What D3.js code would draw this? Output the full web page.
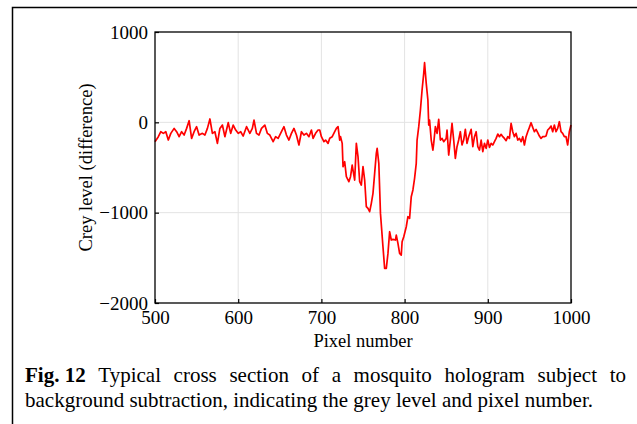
<!DOCTYPE html>
<html>
<head>
<meta charset="utf-8">
<script src="https://cdn.jsdelivr.net/npm/d3@7"></script>
<style>
  body { margin: 0; background: #fff; }
  svg { display: block; }
  svg text { font-family: "Liberation Serif", "Times New Roman", serif; fill: #000; }
</style>
</head>
<body>
<svg width="637" height="424"></svg>
<script>
// cross section values
var pixelNumber = [500, 504, 507, 510, 513, 516, 519, 523, 526, 529, 532, 535, 538, 541, 544, 547, 550, 553, 557, 560,
  563, 566, 569, 572, 575, 578, 581, 584, 588, 591, 594, 597, 600, 603, 606, 610, 614, 617, 619, 622,
  625, 628, 632, 635, 638, 642, 645, 648, 652, 655, 658, 661, 664, 667, 670, 673, 676, 679, 682, 685,
  688, 690, 693, 696, 698, 700, 703, 705, 708, 710, 713, 716, 718, 720, 722, 723, 725, 726, 728, 730,
  733, 735, 737, 738, 740, 742, 744, 746, 748, 750, 752, 754, 756, 758, 760, 762, 764, 766, 767, 769,
  771, 774, 776, 778, 780, 782, 784, 786, 789, 790, 792, 794, 796, 797, 799, 802, 804, 806, 808, 810,
  812, 814, 815, 817, 819, 821, 823, 824, 826, 828, 829, 830, 832, 834, 835, 837, 839, 841, 843, 845,
  847, 850, 851, 853, 855, 857, 859, 861, 863, 865, 867, 869, 871, 873, 875, 877, 880, 882, 884, 886,
  888, 890, 892, 894, 896, 898, 900, 902, 904, 906, 908, 910, 912, 914, 916, 918, 920, 922, 924, 926,
  928, 930, 932, 934, 936, 938, 940, 942, 944, 946, 948, 950, 952, 954, 956, 958, 960, 962, 964, 966,
  968, 970, 972, 974, 976, 978, 980, 982, 984, 986, 988, 990, 992, 994, 996, 998, 1000];
var greyLevel = [-214, -159, -104, -122, -104, -196, -122, -67, -104, -159, -104, -141, -67, 18, -178, -104, -48, -141, -122, -141,
  -67, 37, -122, -104, -233, -67, -30, -159, -4, -122, -30, -85, -122, -104, -152, -48, -122, -67, 25, -122,
  -141, -67, -30, -122, -141, -214, -159, -178, -104, -48, -141, -196, -122, -67, -141, -251, -104, -141, -122, -159,
  -85, -178, -122, -85, -85, -159, -214, -196, -233, -177, -159, -104, -67, -48, -196, -159, -233, -491, -436, -602,
  -657, -602, -473, -528, -639, -233, -380, -657, -694, -491, -639, -934, -953, -989, -897, -786, -565, -344, -288, -454,
  -1008, -1377, -1617, -1617, -1451, -1211, -1303, -1296, -1303, -1248, -1340, -1451, -1469, -1322, -1266, -1156, -1045, -1063, -823, -749,
  -620, -454, -196, -48, 136, 358, 542, 660, 432, 247, -30, 26, -196, -307, -233, -48, -122, 33, -196, -177,
  -214, -178, -85, -362, -196, -11, -196, -399, -270, -196, -104, -251, -196, -78, -233, -159, -78, -270, -159, -104,
  -270, -307, -196, -325, -233, -288, -196, -277, -233, -251, -214, -178, -130, -159, -133, -159, -178, -203, -159, -178,
  -11, -104, -159, -122, -196, -178, -214, -159, -251, -159, -104, -56, -4, -56, -104, -78, -115, -152, -178, -159,
  -159, -152, -85, -67, -41, -104, -30, -104, -67, 7, -104, -122, -159, -159, -251, -104, -30];
var xTicks = [500, 600, 700, 800, 900, 1000];
var yTicks = [-2000, -1000, 0, 1000];
var xTitle = "Pixel number";
var yTitle = "Crey level (difference)";
var captionBold = "Fig. 12";
var captionLine1 = "Typical cross section of a mosquito hologram subject to";
var captionLine2 = "background subtraction, indicating the grey level and pixel number.";

var svg = d3.select("svg");
var plotLeft = 155, plotRight = 571, plotTop = 32, plotBottom = 303;

// outer frame (runs off the right and bottom edges)
svg.append("rect").attr("x", 12.5).attr("y", 7.5).attr("width", 700).attr("height", 500)
  .attr("fill", "none").attr("stroke", "#000").attr("stroke-width", 1.5);

var x = d3.scaleLinear().domain([500, 1000]).range([plotLeft, plotRight]);
var y = d3.scaleLinear().domain([-2000, 1000]).range([plotBottom, plotTop]);

// grid
svg.append("g").selectAll("line").data(xTicks.slice(1, -1)).enter().append("line")
  .attr("x1", d => x(d)).attr("x2", d => x(d)).attr("y1", plotTop).attr("y2", plotBottom)
  .attr("stroke", "#e3e3e3").attr("stroke-width", 1);
svg.append("g").selectAll("line").data(yTicks.slice(1, -1)).enter().append("line")
  .attr("y1", d => y(d)).attr("y2", d => y(d)).attr("x1", plotLeft).attr("x2", plotRight)
  .attr("stroke", "#e3e3e3").attr("stroke-width", 1);

// data line
var line = d3.line().x((d, i) => x(pixelNumber[i])).y(d => y(d));
svg.append("path").datum(greyLevel).attr("d", line)
  .attr("fill", "none").attr("stroke", "#ff0000").attr("stroke-width", 1.7).attr("stroke-linejoin", "round");

// axes with inward ticks
var xAxis = svg.append("g").attr("transform", "translate(0," + plotBottom + ")")
  .call(d3.axisBottom(x).tickValues(xTicks).tickSizeInner(-4).tickSizeOuter(0).tickPadding(9)
    .tickFormat(d3.format("d")));
var yAxis = svg.append("g").attr("transform", "translate(" + plotLeft + ",0)")
  .call(d3.axisLeft(y).tickValues(yTicks).tickSizeInner(-4).tickSizeOuter(0).tickPadding(7)
    .tickFormat(d => d < 0 ? "\u2212" + Math.abs(d) : d));
[xAxis, yAxis].forEach(function(g) {
  g.attr("font-family", null).attr("font-size", null);
  g.select(".domain").remove();
  g.selectAll("line").attr("stroke", "#000").attr("stroke-width", 1.2);
  g.selectAll("text").style("font-size", "19px");
});
xAxis.selectAll("text").attr("dy", "0.62em");

// plot frame
svg.append("rect").attr("x", plotLeft).attr("y", plotTop).attr("width", plotRight - plotLeft).attr("height", plotBottom - plotTop)
  .attr("fill", "none").attr("stroke", "#000").attr("stroke-width", 1.3);

svg.append("text").attr("x", (plotLeft + plotRight) / 2).attr("y", 347).attr("text-anchor", "middle")
  .style("font-size", "18.5px").text(xTitle);
svg.append("text").attr("transform", "translate(92," + ((plotTop + plotBottom) / 2) + ") rotate(-90)")
  .attr("text-anchor", "middle").style("font-size", "18.5px").text(yTitle);

// caption, first line justified
var capLeft = 25, capRight = 626, capSize = "21px";
var words = [captionBold].concat(captionLine1.split(" "));
var widths = words.map(function(w, i) {
  var t = svg.append("text").style("font-size", capSize).attr("font-weight", i === 0 ? "bold" : "normal").text(w);
  var wd = t.node().getComputedTextLength(); t.remove(); return wd;
});
var gap = (capRight - capLeft - d3.sum(widths)) / (words.length - 1);
var cx = capLeft;
words.forEach(function(w, i) {
  svg.append("text").attr("x", cx).attr("y", 382).style("font-size", capSize)
    .attr("font-weight", i === 0 ? "bold" : "normal").text(w);
  cx += widths[i] + gap;
});
svg.append("text").attr("x", capLeft).attr("y", 407).style("font-size", capSize).text(captionLine2);
</script>
</body>
</html>
